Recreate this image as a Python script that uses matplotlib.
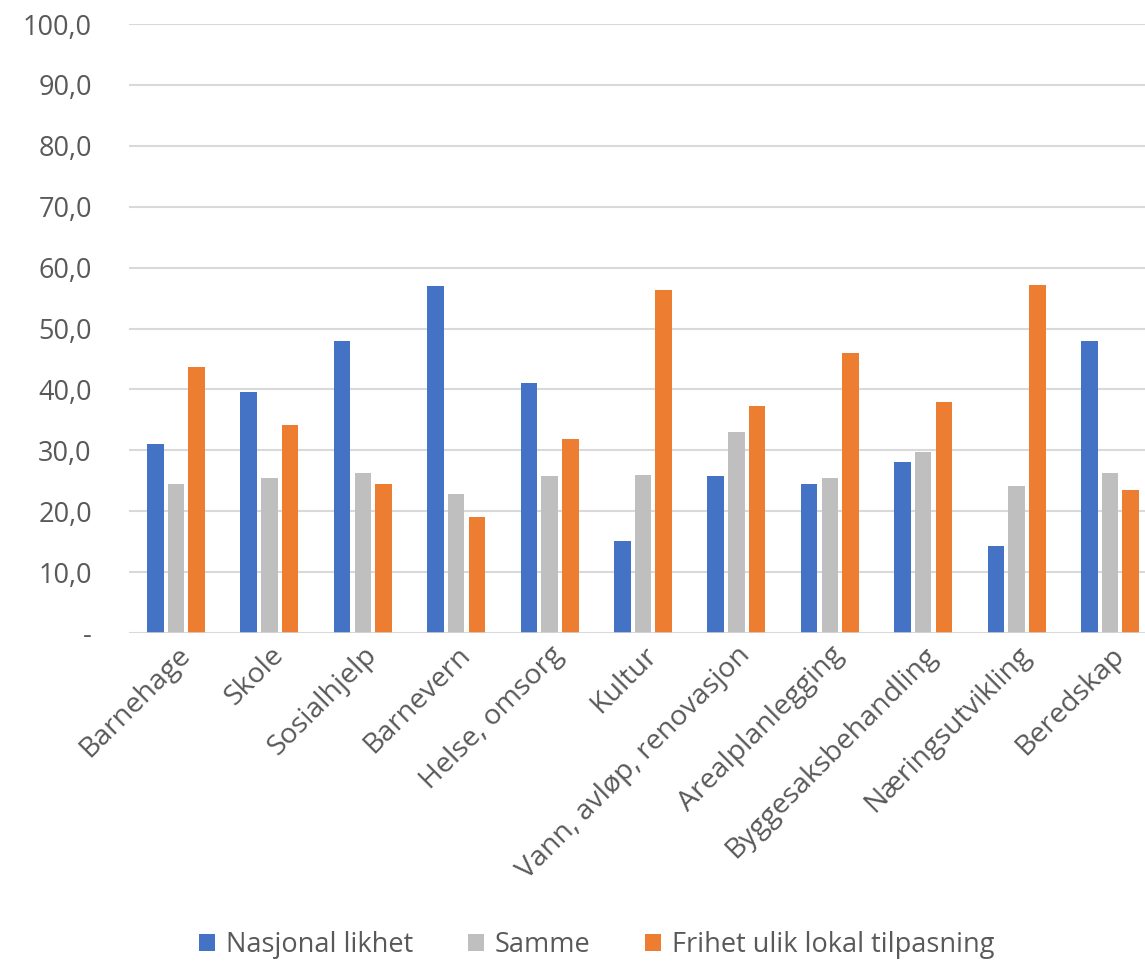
import numpy as np
import matplotlib.pyplot as plt
from matplotlib.ticker import FuncFormatter

plt.rcParams['font.family'] = ['Open Sans', 'DejaVu Sans']

categories = ['Barnehage', 'Skole', 'Sosialhjelp', 'Barnevern', 'Helse, omsorg', 'Kultur',
              'Vann, avløp, renovasjon', 'Arealplanlegging', 'Byggesaksbehandling',
              'Næringsutvikling', 'Beredskap']
nasjonal = [31.1, 39.6, 48.0, 57.0, 41.1, 15.1, 25.8, 24.5, 28.0, 14.3, 48.0]
samme = [24.5, 25.5, 26.2, 22.9, 25.8, 26.0, 33.0, 25.5, 29.8, 24.2, 26.3]
frihet = [43.6, 34.1, 24.5, 19.0, 31.9, 56.4, 37.2, 46.0, 38.0, 57.2, 23.4]

fig = plt.figure(figsize=(11.45, 9.63), dpi=100)
ax = fig.add_axes([0.1129, 0.3427, 0.8973, 0.6323])

x = np.arange(len(categories))
w = 0.177
off = 0.222
ax.bar(x - off, nasjonal, w, color='#4472C4', label='Nasjonal likhet', zorder=3)
ax.bar(x, samme, w, color='#BFBFBF', label='Samme', zorder=3)
ax.bar(x + off, frihet, w, color='#ED7D31', label='Frihet ulik lokal tilpasning', zorder=3)

ax.set_xlim(-0.5, len(categories) - 0.5)
ax.set_ylim(0, 100)
ax.set_yticks(np.arange(0, 101, 10))
ax.yaxis.set_major_formatter(FuncFormatter(lambda v, p: '-' if v == 0 else f'{v:.1f}'.replace('.', ',')))
ax.grid(axis='y', color='#d9d9d9', linewidth=1.5, zorder=0)
ax.axhline(0, color='#d9d9d9', linewidth=1.8, zorder=4)
for s in ax.spines.values():
    s.set_visible(False)
ax.tick_params(axis='x', length=0, labelsize=20.5, colors='#595959', pad=6)
ax.tick_params(axis='y', length=0, labelsize=19.5, colors='#595959', pad=27)
ax.set_xticks(x)
ax.set_xticklabels(categories, rotation=45, ha='right', rotation_mode='anchor')

fig.legend(loc='center', bbox_to_anchor=(0.521, 0.019), ncol=3, frameon=False,
           fontsize=19.5, labelcolor='#595959', handlelength=0.6, handleheight=0.6,
           handletextpad=0.4, columnspacing=2.0)

fig.savefig('out.png', dpi=100)
